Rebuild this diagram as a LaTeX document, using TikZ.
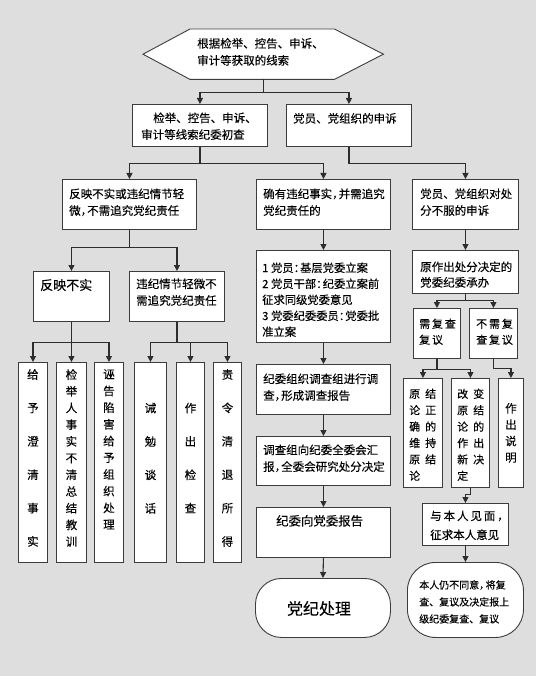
\documentclass[tikz,border=0pt]{standalone}
\usepackage{fontspec}
\newfontfamily\cjk[FakeBold=0.12]{Noto Sans CJK SC}
\usetikzlibrary{arrows.meta}
\definecolor{bgc}{RGB}{222,222,222}
\definecolor{linec}{RGB}{45,45,45}
\definecolor{boxc}{RGB}{60,60,60}
\newcommand\hc{\makebox[6.5pt][l]{，}}
\newcommand\hcol{\makebox[6.5pt][l]{：}}
\newcommand\myfs[2]{\fontsize{#1}{#2}\selectfont}
\tikzset{
  box/.style={draw=boxc, fill=white, line width=0.9pt, inner sep=0pt, anchor=north west},
  rbox/.style={box, rounded corners=#1},
  txt/.style={font=\cjk\myfs{11.5}{16.7}, inner sep=0pt, anchor=north west, align=left, text=black, yshift=-1.5pt},
  ctxt/.style={txt, anchor=north, align=center},
  ln/.style={draw=linec, line width=1.1pt},
  arr/.style={ln, -{Triangle[length=6pt,width=6pt]}},
}
\begin{document}
\begin{tikzpicture}[x=1pt,y=-1pt]
\fill[bgc] (0,0) rectangle (536,676);
\useasboundingbox (0,0) rectangle (536,676);

% top hexagon
\node[inner sep=0pt, minimum width=240pt, minimum height=50pt, anchor=north west] (hex) at (143,29) {};
\draw[draw=boxc, fill=white, line width=0.9pt] (hex.west) -- ([xshift=47pt]hex.north west) -- ([xshift=-49pt]hex.north east) -- (hex.east) -- ([xshift=-49pt]hex.south east) -- ([xshift=47pt]hex.south west) -- cycle;
\node[txt, font=\cjk\myfs{11.5}{17}] (thex) at (197,36.3) {根据检举、控告、申诉、\\审计等获取的线索};

% level 2
\node[box, minimum width=135pt, minimum height=42pt] (A) at (132,104) {};
\node[txt] (tA) at (141,110.8) {\hspace*{12pt}检举、控告、申诉、\\审计等线索纪委初查};
\node[box, minimum width=125pt, minimum height=42pt] (B) at (286,104) {};
\node[txt] (tB) at (293,111.3) {党员、党组织的申诉};

% level 3
\node[box, minimum width=134pt, minimum height=50pt] (C) at (62,179) {};
\node[txt] (tC) at (69,186.8) {反映不实或违纪情节轻\\微\hc 不需追究党纪责任};
\node[box, minimum width=134pt, minimum height=50pt] (F) at (256,179) {};
\node[txt] (tF) at (263,186.8) {确有违纪事实\hc 并需追究\\党纪责任的};
\node[box, minimum width=106pt, minimum height=50pt] (G) at (412,179) {};
\node[txt] (tG) at (420,186.8) {党员、党组织对处\\分不服的申诉};

% level 4 left
\node[box, minimum width=76pt, minimum height=50pt] (D) at (33,271) {};
\node[txt, font=\cjk\myfs{13}{17}] (tD) at (40,277.3) {反映不实};
\node[box, minimum width=95pt, minimum height=50pt] (E) at (129,271) {};
\node[txt] (tE) at (136,276.8) {违纪情节轻微不\\需追究党纪责任};

% columns
\node[box, minimum width=29pt, minimum height=200pt] (c1) at (18,362) {};
\node[box, minimum width=30pt, minimum height=200pt] (c2) at (56,362) {};
\node[box, minimum width=29pt, minimum height=200pt] (c3) at (94,362) {};
\node[box, minimum width=32pt, minimum height=200pt] (c4) at (134,362) {};
\node[box, minimum width=28pt, minimum height=200pt] (c5) at (176,362) {};
\node[box, minimum width=28pt, minimum height=200pt] (c6) at (213,362) {};
\node[ctxt, font=\cjk\myfs{11.5}{33.4}] (t1) at ([yshift=-5.5pt]c1.north) {给\\予\\澄\\清\\事\\实};
\node[ctxt] (t2) at ([yshift=-5.5pt]c2.north) {检\\举\\人\\事\\实\\不\\清\\总\\结\\教\\训};
\node[ctxt] (t3) at ([yshift=-5.5pt]c3.north) {诬\\告\\陷\\害\\给\\予\\组\\织\\处\\理};
\node[ctxt, font=\cjk\myfs{11.5}{33.4}] (t4) at ([yshift=-39.1pt]c4.north) {诫\\勉\\谈\\话};
\node[ctxt, font=\cjk\myfs{11.5}{33.4}] (t5) at ([yshift=-39.1pt]c5.north) {作\\出\\检\\查};
\node[ctxt, font=\cjk\myfs{11.5}{33.4}] (t6) at ([yshift=-5.5pt]c6.north) {责\\令\\清\\退\\所\\得};

% middle chain
\node[box, minimum width=134pt, minimum height=92pt] (H) at (256,250) {};
\node[txt, font=\cjk\myfs{11.3}{16}] (tH) at (262,260.8) {1 党员\hcol 基层党委立案\\2 党员干部\hcol 纪委立案前\\征求同级党委意见\\3 党委纪委委员\hcol 党委批\\准立案};
\node[box, minimum width=134pt, minimum height=50pt] (L) at (256,364) {};
\node[txt] (tL) at (263,371.8) {纪委组织调查组进行调\\查\hc 形成调查报告};
\node[box, minimum width=134pt, minimum height=49pt] (M) at (256,436) {};
\node[txt] (tM) at (263,442.8) {调查组向纪委全委会汇\\报\hc 全委会研究处分决定};
\node[box, minimum width=134pt, minimum height=50pt] (N) at (256,507) {};
\node[txt, font=\cjk\myfs{12.4}{17}] (tN) at (276,513.4) {纪委向党委报告};
\node[rbox=26pt, minimum width=135pt, minimum height=59pt] (N2) at (255,578) {};
\node[txt, font=\cjk\myfs{16}{20}, anchor=center, yshift=0pt] (tN2) at (319,607) {党纪处理};

% right chain
\node[box, minimum width=106pt, minimum height=43pt] (I) at (412,250) {};
\node[txt, font=\cjk\myfs{11.5}{15.5}] (tI) at (420,259.8) {原作出处分决定的\\党委纪委承办};
\node[box, minimum width=47pt, minimum height=50pt] (J) at (413,308) {};
\node[txt, font=\cjk\myfs{11}{16}] (tJ) at (419,317) {需\,复\,查\\复\,议};
\node[box, minimum width=48pt, minimum height=50pt] (K) at (469,308) {};
\node[txt, font=\cjk\myfs{11}{16}] (tK) at (476,317) {不\,需\,复\\查\,复\,议};
\node[box, minimum width=39pt, minimum height=109pt] (O) at (403,378) {};
\node[txt, font=\cjk\myfs{11}{16.4}] (tO) at (409,387) {原\hspace{5pt}结\\论\hspace{5pt}正\\确\hspace{5pt}的\\维\hspace{5pt}持\\原\hspace{5pt}结\\论};
\node[box, minimum width=38pt, minimum height=109pt] (P) at (451,378) {};
\node[txt, font=\cjk\myfs{11}{16.4}] (tP) at (457,387) {改\hspace{5pt}变\\原\hspace{5pt}结\\论\hspace{5pt}的\\作\hspace{5pt}出\\新\hspace{5pt}决\\定};
\node[box, minimum width=25pt, minimum height=109pt] (Q) at (498,378) {};
\node[ctxt, font=\cjk\myfs{11.5}{16.4}] (tQ) at ([yshift=-23.3pt]Q.north) {作\\出\\说\\明};
\node[box, minimum width=86pt, minimum height=42pt] (R) at (422,503) {};
\node[txt, font=\cjk\myfs{11.5}{19}] (tR) at (430,508.8) {与\,本\,人\,见\,面\,，\\征求本人意见};
\node[rbox=28pt, minimum width=116pt, minimum height=75pt] (S) at (407,562) {};
\node[txt, font=\cjk\myfs{10}{17}] (tS) at (419,578.5) {本人仍不同意\hc 将复\\查、复议及决定报上\\级纪委复查、复议};

% connectors
\draw[arr] (hex.south) -- ++(0,13) -| (A.north);
\draw[arr] (hex.south) -- ++(0,13) -| (B.north);
\draw[arr] (A.south) -- ++(0,17) -| (C.north);
\draw[arr] (A.south) -- ++(0,17) -| (F.north);
\draw[arr] (B.south) -- ++(0,17) -| (G.north);
\draw[arr] (C.south) -- ++(0,18) -| (D.north);
\draw[arr] (C.south) -- ++(0,18) -| (E.north);
\draw[arr] (D.south) -- ++(0,21) -| (c1.north);
\draw[arr] (D.south) -- (c2.north);
\draw[arr] (D.south) -- ++(0,21) -| (c3.north);
\draw[arr] (E.south) -- ++(0,21) -| (c4.north);
\draw[arr] (E.south) -- ++(0,21) -| (c5.north);
\draw[arr] (E.south) -- ++(0,21) -| (c6.north);
\draw[arr] (F.south) -- (H.north);
\draw[arr] (H.south) -- (L.north);
\draw[arr] (L.south) -- (M.north);
\draw[arr] (M.south) -- (N.north);
\draw[arr] (N.south) -- (N2.north);
\draw[arr] (G.south) -- (I.north);
\draw[arr] (I.south) -- ++(0,7) -| (J.north);
\draw[arr] (I.south) -- ++(0,7) -| (K.north);
\draw[arr] (J.south) -- ++(0,11) -| (O.north);
\draw[arr] (J.south) -- ++(0,11) -| (P.north);
\draw[arr] (K.south) -- ++(0,10) -| (Q.north);
\draw[arr] (P.south) -- ++(0,7) -| (R.north);
\draw[arr] (R.south) -- (S.north);
\end{tikzpicture}
\end{document}
